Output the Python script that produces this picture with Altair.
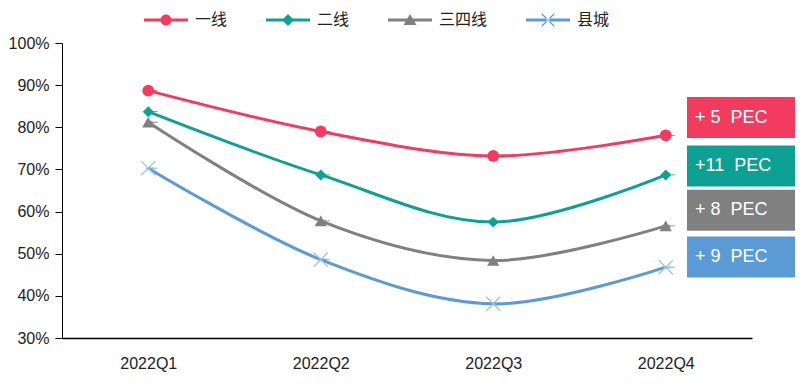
import altair as alt
import pandas as pd

quarters = ["2022Q1", "2022Q2", "2022Q3", "2022Q4"]
series_names = ["一线", "二线", "三四线", "县城"]
tier1 = [88.7, 79.0, 73.2, 78.1]
tier2 = [83.7, 68.7, 57.5, 68.7]
tier34 = [81.2, 57.8, 48.4, 56.6]
county = [70.3, 48.6, 38.1, 46.8]
colors = ["#F23B5F", "#0CA193", "#808080", "#5B9BD5"]
box_labels = ["+ 5\u00a0\u00a0PEC", "+11\u00a0\u00a0PEC", "+ 8\u00a0\u00a0PEC", "+ 9\u00a0\u00a0PEC"]
box_centers = [82.3, 70.8, 60.3, 49.2]

rows = []
for name, vals in zip(series_names, [tier1, tier2, tier34, county]):
    for q, v in zip(quarters, vals):
        rows.append({"q": q, "s": name, "v": v / 100})
df = pd.DataFrame(rows)

boxes = pd.DataFrame({
    "label": box_labels,
    "c": [b / 100 for b in box_centers],
    "hex": colors,
})

# legend symbol paths (line + marker); unit = 10px, symbol box 20px, drawn 44px wide
line = "M-1,-0.15H3.4V0.15H-1Z"
circ = "M1.75,0A0.55,0.55 0 1,1 0.65,0A0.55,0.55 0 1,1 1.75,0Z"
diam = "M1.2,-0.6L1.8,0L1.2,0.6L0.6,0Z"
tri = "M1.2,-0.6L1.85,0.5L0.55,0.5Z"
xx = ("M0.558,-0.558L1.758,0.642L1.842,0.558L0.642,-0.642Z"
      "M0.642,0.642L1.842,-0.558L1.758,-0.642L0.558,0.558Z")
legend_shapes = [line + circ, line + diam, line + tri, line + xx]

legend = alt.Legend(
    title=None, orient="none", direction="horizontal", columns=4,
    legendX=82, legendY=-33,
    labelFont="Noto Sans CJK SC", labelFontSize=16, labelColor="#222222",
    symbolSize=400, labelOffset=31, columnPadding=38,
    symbolStrokeWidth=0, symbolOpacity=1,
)

color_scale = alt.Scale(domain=series_names, range=colors)
x_enc = alt.X("q:N", sort=quarters, title=None,
              scale=alt.Scale(paddingInner=0, paddingOuter=0.5),
              axis=alt.Axis(labelAngle=0, ticks=False, domainColor="#000000",
                            domainWidth=1.5, labelFont="Liberation Sans",
                            labelFontSize=16, labelColor="#222222",
                            labelPadding=17, grid=False))
y_enc = alt.Y("v:Q", title=None,
              scale=alt.Scale(domain=[0.3, 1.0], nice=False, zero=False),
              axis=alt.Axis(format=".0%", values=[0.3, 0.4, 0.5, 0.6, 0.7, 0.8, 0.9, 1.0],
                            grid=False, domainColor="#000000", tickColor="#000000",
                            tickSize=7, labelFont="Liberation Sans", labelFontSize=16,
                            labelColor="#222222", labelPadding=6))

base = alt.Chart(df)
lines = base.mark_line(interpolate="cardinal", strokeWidth=3).encode(
    x=x_enc, y=y_enc,
    color=alt.Color("s:N", scale=color_scale, legend=legend),
    shape=alt.Shape("s:N", scale=alt.Scale(domain=series_names, range=legend_shapes),
                    legend=legend),
    detail="s:N",
)

marker_layers = []
for name, shp, sz, col in zip(series_names[:3], ["circle", "diamond", "triangle-up"],
                              [140, 120, 150], colors[:3]):
    marker_layers.append(
        base.transform_filter(alt.datum.s == name).mark_point(
            shape=shp, filled=True, size=sz, opacity=1, color=col
        ).encode(x=x_enc, y=y_enc)
    )
xpts = base.transform_filter(alt.datum.s == "县城").mark_point(
    shape="M-1,-1L1,1M-1,1L1,-1", filled=False, strokeWidth=1.3, size=200,
    opacity=1, color="#9DC3E6").encode(x=x_enc, y=y_enc)

box_base = alt.Chart(boxes)
rects = box_base.mark_point(
    shape="M-1,-0.38H1V0.38H-1Z", filled=True, size=11664, opacity=1
).encode(
    x=alt.value(679),
    y=alt.Y("c:Q", scale=alt.Scale(domain=[0.3, 1.0], nice=False, zero=False)),
    fill=alt.Fill("hex:N", scale=None),
)
texts = box_base.mark_text(
    align="left", baseline="middle", color="white",
    font="Liberation Sans Narrow, Liberation Sans", fontSize=18
).encode(
    x=alt.value(633),
    y=alt.Y("c:Q", scale=alt.Scale(domain=[0.3, 1.0], nice=False, zero=False)),
    text="label:N",
)

chart = alt.layer(lines, *marker_layers, xpts, rects, texts).properties(
    width=690, height=295,
    autosize=alt.AutoSizeParams(type="none"),
    padding={"left": 54, "top": 35, "right": 47, "bottom": 42},
).configure(background="white", view=alt.ViewConfig(stroke=None))

chart.save("out.html", embed_options={"renderer": "svg", "actions": False})
